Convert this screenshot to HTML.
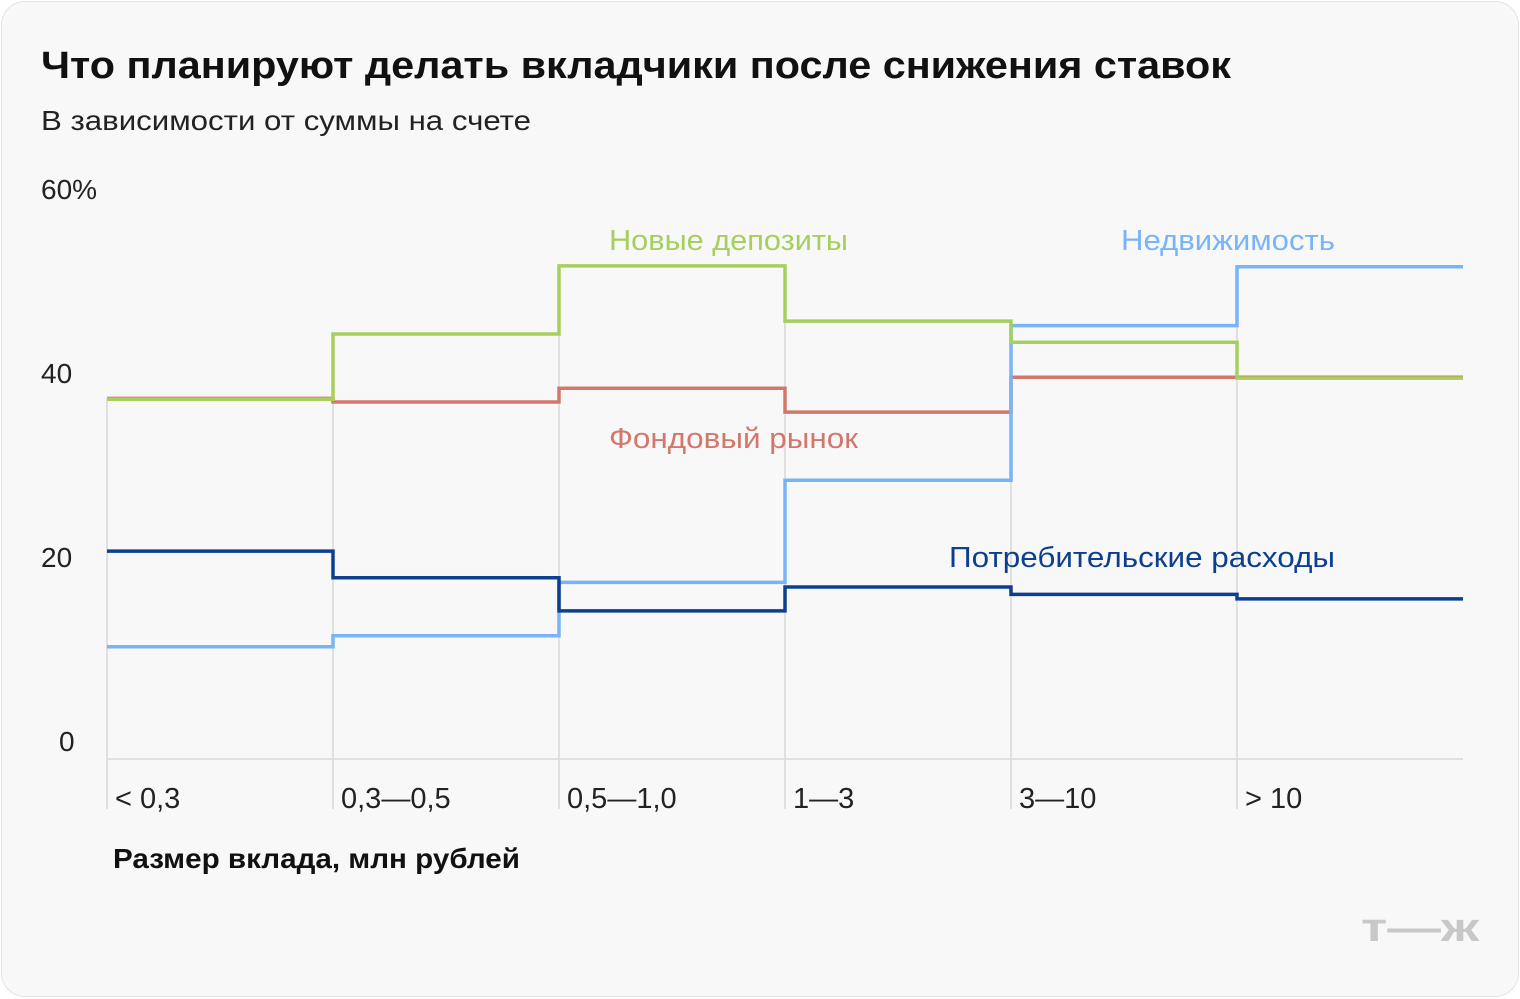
<!DOCTYPE html>
<html><head><meta charset="utf-8"><style>
body{margin:0;background:#fff;font-family:"Liberation Sans",sans-serif}
#card{position:absolute;left:1px;top:1px;width:1516px;height:994px;background:#f8f8f8;border:1px solid #e4e4e4;border-radius:24px}
</style></head><body>
<div id="card">
<svg id="chart" width="1520" height="998" style="position:absolute;left:-1px;top:-1px">
<text x="40" y="77" font-size="38" font-weight="bold" fill="#111" textLength="1190" lengthAdjust="spacingAndGlyphs">Что планируют делать вкладчики после снижения ставок</text>
<text x="40" y="129" font-size="28" fill="#222" textLength="490" lengthAdjust="spacingAndGlyphs">В зависимости от суммы на счете</text>
<text x="112" y="867" font-size="28" font-weight="bold" fill="#111" textLength="407" lengthAdjust="spacingAndGlyphs">Размер вклада, млн рублей</text>
<text x="1360" y="940" font-size="40" font-weight="bold" fill="#c8c8c8" textLength="118" lengthAdjust="spacingAndGlyphs">т—ж</text>
<g id="grid"></g><g id="series"></g><g id="labels"></g>
</svg></div>
<script>
const categories=["< 0,3","0,3—0,5","0,5—1,0","1—3","3—10","> 10"];
const yTicks=[0,20,40,60];
const yTickLabels=["0","20","40","60%"];
const newDeposits=[39.1,46.2,53.6,47.6,45.3,41.4];
const stockMarket=[39.2,38.8,40.3,37.7,41.5,41.5];
const realEstate=[12.2,13.4,19.2,30.3,47.1,53.5];
const consumerSpending=[22.6,19.7,16.1,18.7,17.9,17.4];
const NS="http://www.w3.org/2000/svg";
const x0=106,bw=226,yBase=758,k=9.2;
const xs=i=>x0+i*bw;
const ys=v=>yBase-v*k;
function mk(t,a,p){const e=document.createElementNS(NS,t);for(const q in a)e.setAttribute(q,a[q]);p.appendChild(e);return e;}
const grid=document.getElementById('grid'),ser=document.getElementById('series'),lab=document.getElementById('labels');
yTicks.forEach((v,i)=>{
 const t=mk('text',{x:v===0?58:40,y:ys(v)-8,'font-size':28,fill:'#222'},lab);
 t.textContent=yTickLabels[i];
 
 
});
const bl=mk('line',{x1:x0,x2:xs(6),y1:yBase,y2:yBase,stroke:'#d8d8d8','stroke-width':1.5},grid);


categories.forEach((c,i)=>{
 const l=mk('line',{x1:xs(i),x2:xs(i),y1:ys(Math.max(newDeposits[i],realEstate[i],stockMarket[i])),y2:808,stroke:'#d8d8d8','stroke-width':1.5},grid);
 
 
 const t=mk('text',{x:xs(i)+8,y:807,'font-size':29,fill:'#222'},lab);
 t.textContent=c;
 
 
});
function step(vals,color,name){
 let d='';
 vals.forEach((v,i)=>{d+=(i?'L':'M')+xs(i)+','+ys(v)+'L'+xs(i+1)+','+ys(v);});
 const p=mk('path',{d:d,fill:'none',stroke:color,'stroke-width':3.5},ser);
 
 
}
step(stockMarket,'#d4776b','stock-market-line');
step(realEstate,'#79b4f8','real-estate-line');
step(newDeposits,'#a6cf5d','new-deposits-line');
step(consumerSpending,'#0d3f8f','consumer-spending-line');
function lbl(txt,x,y,w,color,name){
 const t=mk('text',{x:x,y:y,'font-size':29,fill:color,textLength:w,lengthAdjust:'spacingAndGlyphs'},lab);
 t.textContent=txt;
 
 
}
lbl('Новые депозиты',608,249,239,'#a6cf5d','new-deposits-label');
lbl('Недвижимость',1120,249,214,'#79b4f8','real-estate-label');
lbl('Фондовый рынок',608,447,249,'#d4776b','stock-market-label');
lbl('Потребительские расходы',948,566,386,'#0d3f8f','consumer-spending-label');
</script>
</body></html>
